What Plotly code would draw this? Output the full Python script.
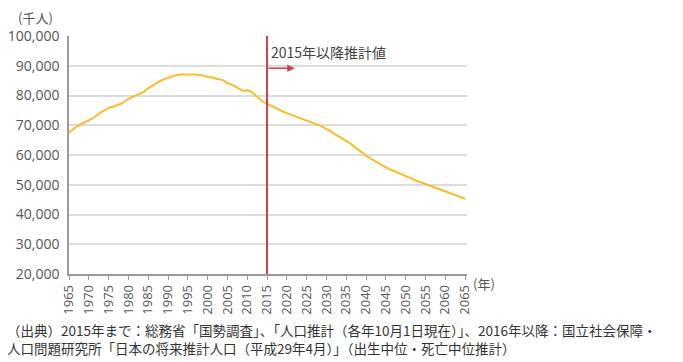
import plotly.graph_objects as go

years = list(range(1965, 2066))
population = [
    67444, 68701, 69662, 70377, 70974, 71566, 72281, 73301, 74310, 74961,
    75807, 76212, 76615, 77138, 77912, 78835, 79435, 80077, 80712, 81314,
    82506, 83368, 84186, 84855, 85456, 85904, 86557, 86845, 87023, 87034,
    87165, 87161, 87042, 86920, 86758, 86220, 86139, 85706, 85404, 85077,
    84092, 83731, 83015, 82300, 81493, 81735, 81342, 80175, 79010, 77850,
    77282, 76562, 75782, 75158, 74622, 74058, 73550, 73130, 72683, 72181,
    71701, 71231, 70716, 70147, 69519, 68754, 67950, 67100, 66300, 65600,
    64942, 63900, 62900, 61800, 60800, 59777, 58900, 58100, 57300, 56600,
    55845, 55200, 54600, 54000, 53400, 52750, 52200, 51700, 51200, 50750,
    50276, 49800, 49350, 48850, 48400, 47928, 47400, 46900, 46350, 45800,
    45291,
]
tick_years = list(range(1965, 2066, 5))
y_ticks = list(range(20000, 100001, 10000))
estimate_start = 2015
estimate_label = "2015年以降推計値"
y_unit = "(千人)"
x_unit = "(年)"
footer_line1 = "（出典）2015年まで：総務省「国勢調査」、「人口推計（各年10月1日現在）」、2016年以降：国立社会保障・"
footer_line2 = "人口問題研究所「日本の将来推計人口（平成29年4月）」（出生中位・死亡中位推計）"

LINE = "#fbbb2a"
RED = "#c9424e"
GRID = "#dcdcdc"
TXT = "#555555"
NUM_FONT = "Open Sans"
JP_FONT = "Noto Sans CJK JP"

fig = go.Figure()
fig.add_trace(go.Scatter(
    x=years, y=population, mode="lines",
    line=dict(color=LINE, width=2), hoverinfo="skip", showlegend=False,
))

fig.add_shape(type="line", xref="x", yref="paper", x0=estimate_start, x1=estimate_start,
              y0=0, y1=1.0, line=dict(color=RED, width=2))

fig.add_annotation(x=2022, y=89200, ax=estimate_start, ay=89200, xref="x", yref="y",
                   axref="x", ayref="y", showarrow=True, arrowhead=2, arrowsize=1,
                   arrowwidth=1.5, arrowcolor=RED, text="")
fig.add_annotation(x=estimate_start + 0.5, y=94500, xref="x", yref="y", xanchor="left",
                   yanchor="middle", showarrow=False, text=estimate_label,
                   font=dict(family=JP_FONT, size=14, color="#444444"))

fig.add_annotation(x=-0.083, y=1.076, xref="paper", yref="paper", xanchor="center",
                   yanchor="middle", showarrow=False, text=y_unit,
                   font=dict(family=JP_FONT, size=13, color=TXT))
fig.add_annotation(x=1.01, y=-0.04, xref="paper", yref="paper", xanchor="left",
                   yanchor="middle", showarrow=False, text=x_unit,
                   font=dict(family=JP_FONT, size=13, color=TXT))

fig.add_annotation(x=-0.162, y=-0.273, xref="paper", yref="paper", xanchor="left",
                   yanchor="middle", align="left", showarrow=False,
                   text=footer_line1 + "<br>" + footer_line2,
                   font=dict(family=JP_FONT, size=13.5, color="#333333"))

fig.update_xaxes(
    range=[1965, 2065.5], tickvals=tick_years, ticktext=[str(y) for y in tick_years],
    tickangle=-90, showgrid=False, zeroline=False, automargin=False,
    showline=True, linecolor="#9a9a9a", linewidth=1.5,
    ticks="outside", ticklen=4, tickcolor="#9a9a9a", tickwidth=1,
    tickfont=dict(family=NUM_FONT, size=13, color=TXT),
)
fig.update_yaxes(
    range=[20000, 100000], tickvals=y_ticks, tickformat=",d",
    showgrid=True, gridcolor=GRID, gridwidth=1.5, zeroline=False, automargin=False,
    showline=True, linecolor="#9a9a9a", linewidth=1.5,
    ticks="", ticklabelstandoff=5,
    tickfont=dict(family=NUM_FONT, size=14, color=TXT),
)

# page body has an 8px margin, so the figure is sized/offset to compensate
fig.update_layout(
    width=675, height=354, autosize=False,
    margin=dict(l=61, r=216, t=28, b=88),
    plot_bgcolor="white", paper_bgcolor="white",
)

fig.write_html("out.html")
